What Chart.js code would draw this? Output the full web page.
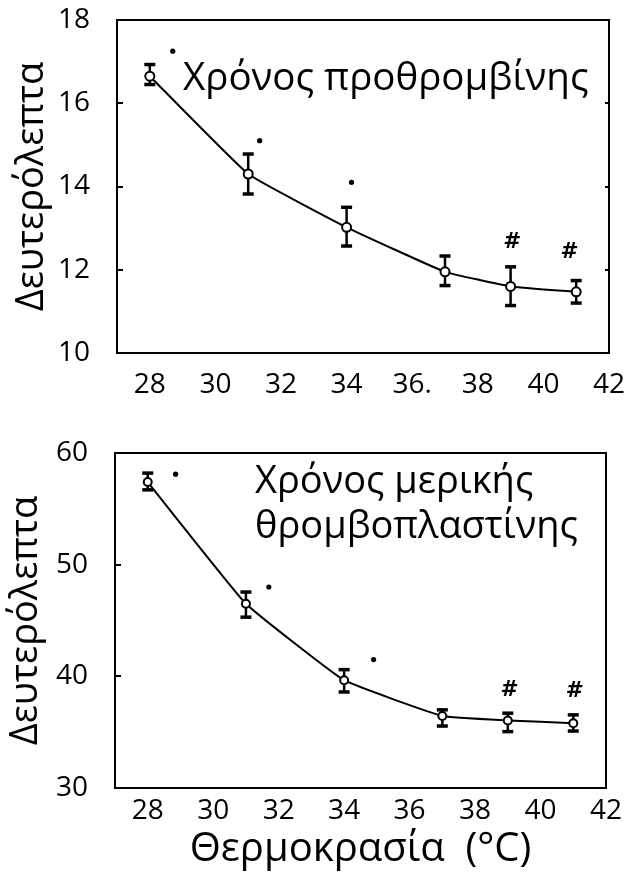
<!DOCTYPE html>
<html><head><meta charset="utf-8">
<script src="https://cdn.jsdelivr.net/npm/chart.js@4.4.1/dist/chart.umd.min.js"></script>
<style>
html,body{margin:0;padding:0;background:#fff;width:629px;height:875px;overflow:hidden}
#c1{position:absolute;left:0;top:0}
#c2{position:absolute;left:0;top:420px}
</style></head><body>
<canvas id="c1" width="629" height="420"></canvas>
<canvas id="c2" width="629" height="455"></canvas>
<script>
// ---------- data ----------
const temps = [28, 31, 34, 37, 39, 41];
const xTicks = [28, 30, 32, 34, 36, 38, 40, 42];
const xTickLabelsTop = ['28', '30', '32', '34', '36.', '38', '40', '42'];
const xTickLabelsBottom = ['28', '30', '32', '34', '36', '38', '40', '42'];

// Prothrombin time (seconds)
const ptMean = [16.65, 14.3, 13.02, 11.95, 11.6, 11.47];
const ptLow  = [16.45, 13.82, 12.57, 11.62, 11.14, 11.2];
const ptHigh = [16.93, 14.78, 13.5, 12.33, 12.07, 11.74];
const ptDotX = [28.7, 31.35, 34.15];
const ptDotY = [17.25, 15.1, 14.1];
const ptHashX = [39.0, 40.75];
const ptHashY = [12.65, 12.42];
const ptYTicks = [10, 12, 14, 16, 18];

// Partial thromboplastin time (seconds)
const pttMean = [57.4, 46.5, 39.65, 36.45, 36.05, 35.8];
const pttLow  = [56.7, 45.3, 38.6, 35.55, 35.05, 35.1];
const pttHigh = [58.2, 47.55, 40.6, 37.0, 36.7, 36.55];
const pttDotX = [28.85, 31.7, 34.9];
const pttDotY = [58.1, 48.0, 41.5];
const pttHashX = [39.0, 41.0];
const pttHashY = [38.75, 38.7];
const pttYTicks = [30, 40, 50, 60];

const yTitle = 'Δευτερόλεπτα';
const xTitle = 'Θερμοκρασία  (°C)';
const topLabel = ['Χρόνος προθρομβίνης'];
const bottomLabel = ['Χρόνος μερικής', 'θρομβοπλαστίνης'];

// ---------- plugins ----------
const framePlugin = {
  id: 'frame',
  afterDatasetsDraw(chart) {
    const {ctx, chartArea: a} = chart;
    ctx.save();
    ctx.strokeStyle = '#000';
    ctx.lineWidth = 2;
    ctx.strokeRect(a.left, a.top, a.right - a.left, a.bottom - a.top);
    ctx.restore();
  }
};

const extrasPlugin = {
  id: 'extras',
  afterDraw(chart, args, o) {
    const {ctx} = chart;
    const xs = chart.scales.x, ys = chart.scales.y;
    ctx.save();
    ctx.fillStyle = '#000';
    ctx.font = 'italic bold 22px "DejaVu Sans"';
    ctx.textAlign = 'center';
    ctx.textBaseline = 'middle';
    o.hashX.forEach((v, i) => {
      ctx.fillText('#', xs.getPixelForValue(v), ys.getPixelForValue(o.hashY[i]));
    });
    ctx.font = o.labelFont;
    ctx.textAlign = 'left';
    ctx.textBaseline = 'alphabetic';
    o.lines.forEach((t, i) => ctx.fillText(t, o.labelX, o.labelY + i * o.lineGap));
    ctx.restore();
  }
};

function buildDatasets(mean, low, high, dotX, dotY, radius) {
  const ds = [];
  temps.forEach((t, i) => {
    ds.push({
      type: 'line',
      data: [{x: t, y: low[i]}, {x: t, y: high[i]}],
      borderColor: '#000', borderWidth: 2.5,
      pointStyle: 'line', pointRadius: 5.5, pointBorderWidth: 3.5,
      pointBorderColor: '#000', order: 2
    });
  });
  ds.push({
    type: 'line',
    data: temps.map((t, i) => ({x: t, y: mean[i]})),
    borderColor: '#000', borderWidth: 2, tension: 0.1,
    pointRadius: radius, pointBackgroundColor: '#fff', pointBorderColor: '#000',
    pointBorderWidth: 2, order: 0
  });
  ds.push({
    type: 'line', showLine: false,
    data: dotX.map((v, i) => ({x: v, y: dotY[i]})),
    pointRadius: 2.6, pointBackgroundColor: '#000', pointBorderColor: '#000',
    pointBorderWidth: 0, order: 1
  });
  return ds;
}

function makeChart(id, cfg) {
  const scales = {
    x: {
      type: 'linear', min: 27, max: 42,
      afterBuildTicks: s => { s.ticks = xTicks.map(v => ({value: v})); },
      afterFit: s => { s.height = cfg.xHeight; s.paddingLeft = 0; s.paddingRight = 0; },
      grid: {display: false, drawTicks: false},
      border: {display: false},
      ticks: {
        color: '#000', padding: cfg.xPad, maxRotation: 0, autoSkip: false,
        font: {family: '"Open Sans"', size: 28},
        callback: v => cfg.xLabels[xTicks.indexOf(v)]
      },
      title: cfg.xTitle ? {
        display: true, text: xTitle, color: '#000',
        font: {family: '"Open Sans"', size: 40},
        padding: {top: 0, bottom: 1}
      } : {display: false}
    },
    y: {
      type: 'linear', min: cfg.yMin, max: cfg.yMax,
      afterBuildTicks: s => { s.ticks = cfg.yTicks.map(v => ({value: v})); },
      afterFit: s => { s.width = cfg.yWidth; s.paddingTop = 0; s.paddingBottom = 0; },
      grid: {display: true, drawOnChartArea: false, drawTicks: true, tickLength: -6, color: '#000', lineWidth: 2},
      border: {display: false},
      ticks: {
        color: '#000', padding: 33,
        font: {family: '"Open Sans"', size: 28}
      },
      title: {
        display: true, text: yTitle, color: '#000',
        font: {family: '"Open Sans"', size: 38},
        padding: {top: cfg.yTitlePad, bottom: 0}
      }
    }
  };
  if (cfg.rightTicks) {
    scales.y2 = {
      type: 'linear', position: 'right', min: cfg.yMin, max: cfg.yMax,
      afterBuildTicks: s => { s.ticks = cfg.yTicks.map(v => ({value: v})); },
      afterFit: s => { s.width = 0; s.paddingTop = 0; s.paddingBottom = 0; },
      grid: {display: true, drawOnChartArea: false, drawTicks: true, tickLength: -4, color: '#000', lineWidth: 2},
      border: {display: false},
      ticks: {display: false}
    };
  }
  return new Chart(document.getElementById(id), {
    type: 'line',
    data: {datasets: buildDatasets(cfg.mean, cfg.low, cfg.high, cfg.dotX, cfg.dotY, cfg.radius)},
    plugins: [framePlugin, extrasPlugin],
    options: {
      responsive: false, animation: false,
      layout: {padding: cfg.padding},
      plugins: {
        legend: {display: false}, tooltip: {enabled: false},
        extras: cfg.extras
      },
      scales
    }
  });
}

makeChart('c1', {
  mean: ptMean, low: ptLow, high: ptHigh, dotX: ptDotX, dotY: ptDotY, radius: 4.5,
  padding: {top: 20, right: 20, bottom: 0, left: 0}, rightTicks: true,
  xHeight: 67, yWidth: 117, xPad: 15, xLabels: xTickLabelsTop, xTitle: false,
  yMin: 10, yMax: 18, yTicks: ptYTicks, yTitlePad: 9,
  extras: {hashX: ptHashX, hashY: ptHashY, lines: topLabel,
           labelFont: '38.5px "Open Sans"', labelX: 183, labelY: 90, lineGap: 45}
});

makeChart('c2', {
  mean: pttMean, low: pttLow, high: pttHigh, dotX: pttDotX, dotY: pttDotY, radius: 4,
  padding: {top: 33, right: 23, bottom: 0, left: 0}, rightTicks: false,
  xHeight: 87, yWidth: 115, xPad: 6, xLabels: xTickLabelsBottom, xTitle: true,
  yMin: 30, yMax: 60, yTicks: pttYTicks, yTitlePad: 3,
  extras: {hashX: pttHashX, hashY: pttHashY, lines: bottomLabel,
           labelFont: '38px "Open Sans"', labelX: 255, labelY: 73, lineGap: 45}
});
</script>
</body></html>
